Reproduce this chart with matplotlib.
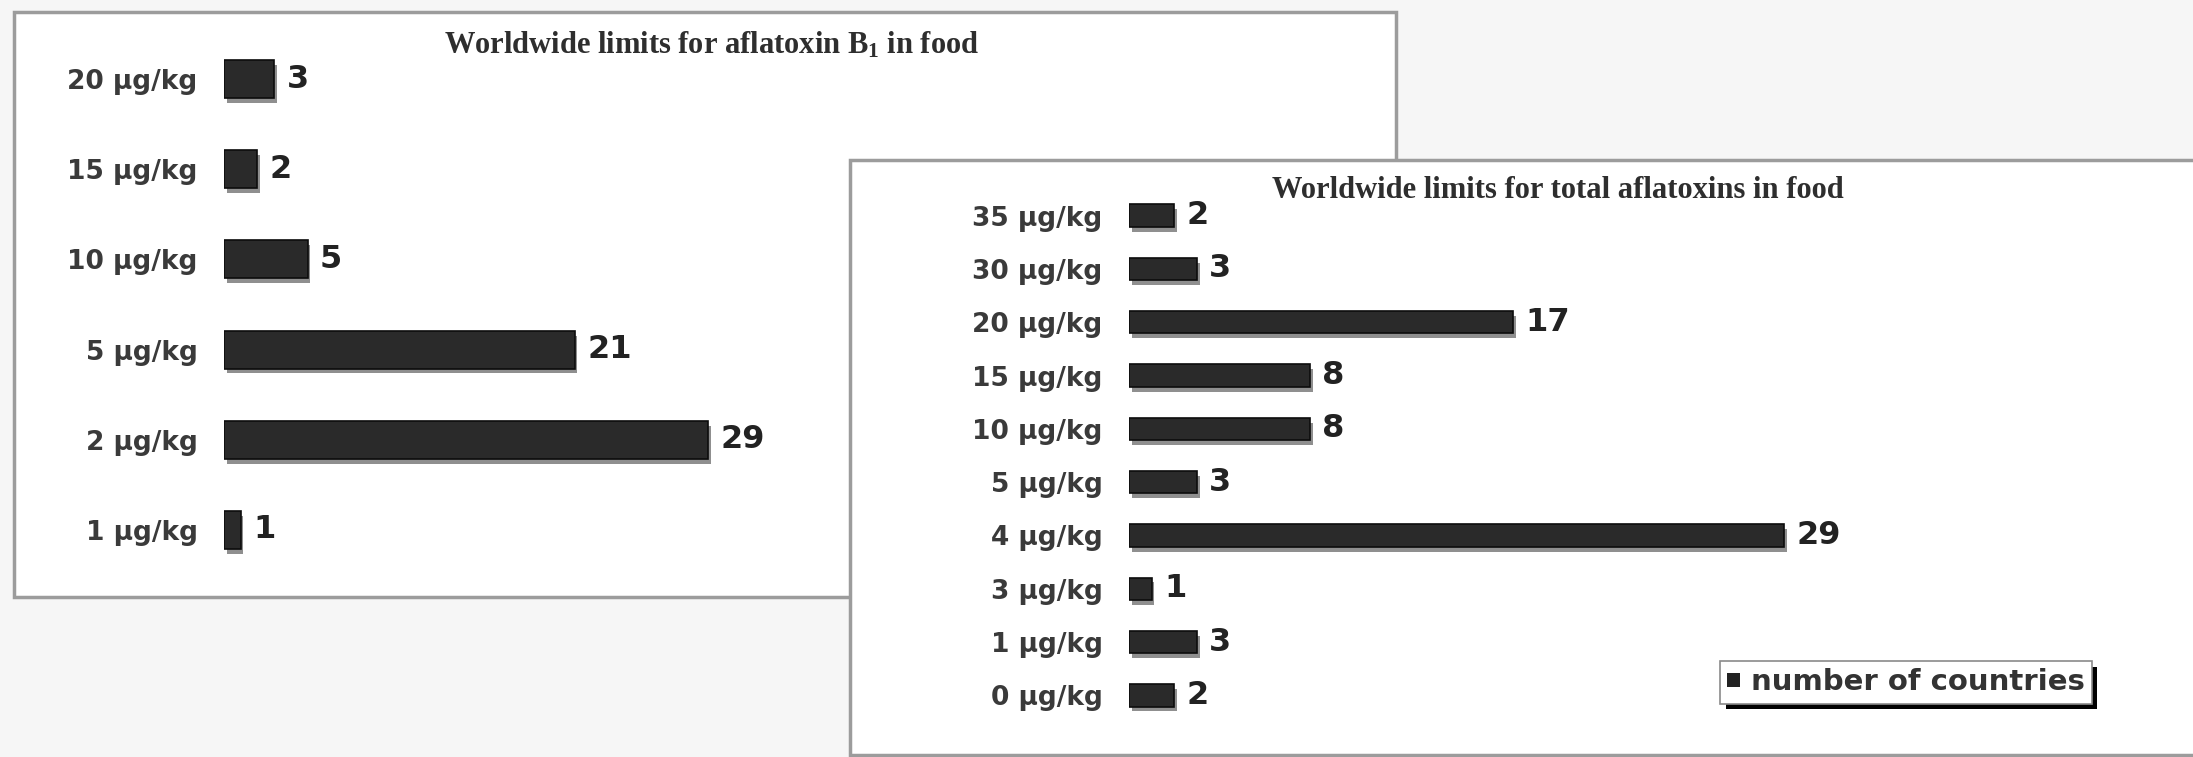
import matplotlib
matplotlib.use('Agg')
import matplotlib.pyplot as plt
import matplotlib.patheffects as pe
from matplotlib.patches import Rectangle

# Limits for aflatoxin B1, listed top to bottom
b1_limits = ['20 µg/kg', '15 µg/kg', '10 µg/kg', '5 µg/kg', '2 µg/kg', '1 µg/kg']
b1_countries = [3, 2, 5, 21, 29, 1]

# Limits for total aflatoxins, listed top to bottom
total_limits = ['35 µg/kg', '30 µg/kg', '20 µg/kg', '15 µg/kg', '10 µg/kg',
                '5 µg/kg', '4 µg/kg', '3 µg/kg', '1 µg/kg', '0 µg/kg']
total_countries = [2, 3, 17, 8, 8, 3, 29, 1, 3, 2]

plt.rcParams['mathtext.fontset'] = 'custom'
plt.rcParams['mathtext.rm'] = 'Liberation Serif:bold'
plt.rcParams['mathtext.default'] = 'rm'

W, H = 2193, 757
fig = plt.figure(figsize=(W / 100, H / 100), dpi=100, facecolor='#f6f6f6')


def px_box(x0, y0, x1, y1):
    # pixel box (top-left origin) -> figure fraction [left, bottom, width, height]
    return [x0 / W, 1 - y1 / H, (x1 - x0) / W, (y1 - y0) / H]


def panel(x0, y0, x1, y1, z):
    l, b, w, h = px_box(x0, y0, x1, y1)
    r = Rectangle((l, b), w, h, transform=fig.transFigure, facecolor='white',
                  edgecolor='#9c9c9c', lw=2.5, zorder=z)
    fig.add_artist(r)


def bar_panel(rect, labels, values, z):
    ax = fig.add_axes(rect, zorder=z)
    ax.patch.set_alpha(0)
    pos = list(range(len(labels)))
    bars = ax.barh(pos, values, height=0.42, color='#2a2a2a', edgecolor='#0c0c0c', lw=1.2)
    for b in bars:
        b.set_path_effects([pe.SimplePatchShadow(offset=(2, -3.5), shadow_rgbFace='#8f8f8f', alpha=1),
                            pe.Normal()])
    ax.bar_label(bars, padding=9, fontsize=23, fontweight='bold', color='#222222')
    ax.set_yticks(pos)
    ax.set_yticklabels(labels, fontsize=19, fontweight='bold', color='#3a3a3a')
    ax.tick_params(axis='y', length=0, pad=19)
    ax.set_xticks([])
    ax.set_xlim(0, 40)
    ax.set_ylim(len(labels) - 0.5, -0.5)
    for s in ax.spines.values():
        s.set_visible(False)
    return ax


# left panel: aflatoxin B1
panel(14, 12, 1396, 597, 0.5)
ax1 = bar_panel(px_box(224, 34, 892, 575), b1_limits, b1_countries, 1)
fig.text(712 / W, 1 - 45 / H, r'Worldwide limits for aflatoxin B$_1$ in food',
         ha='center', va='center', fontsize=22, fontweight='bold',
         family='Liberation Serif', color='#2e2e2e', zorder=1.5)

# right panel: total aflatoxins, drawn over the left one
panel(850, 160, 2230, 755, 2)
ax2 = bar_panel(px_box(1129, 189, 2033, 722), total_limits, total_countries, 3)
fig.text(1558 / W, 1 - 190 / H, 'Worldwide limits for total aflatoxins in food',
         ha='center', va='center', fontsize=22, fontweight='bold',
         family='Liberation Serif', color='#2e2e2e', zorder=3.5)

handle = Rectangle((0, 0), 1, 1, facecolor='#222222')
leg = ax2.legend([handle], ['number of countries'], loc='upper left',
                 bbox_to_anchor=(1720 / W, 1 - 661 / H), bbox_transform=fig.transFigure,
                 borderaxespad=0, fancybox=False, edgecolor='#8a8a8a', framealpha=1,
                 handlelength=0.45, handleheight=0.4, handletextpad=0.35, borderpad=0.25,
                 prop={'size': 21, 'weight': 'bold'})
for t in leg.get_texts():
    t.set_color('#333333')
leg.get_frame().set_linewidth(1.2)
leg.get_frame().set_path_effects([pe.SimplePatchShadow(offset=(4, -4), shadow_rgbFace='black', alpha=1),
                                  pe.Normal()])

fig.savefig('out.png', dpi=100, facecolor=fig.get_facecolor())
